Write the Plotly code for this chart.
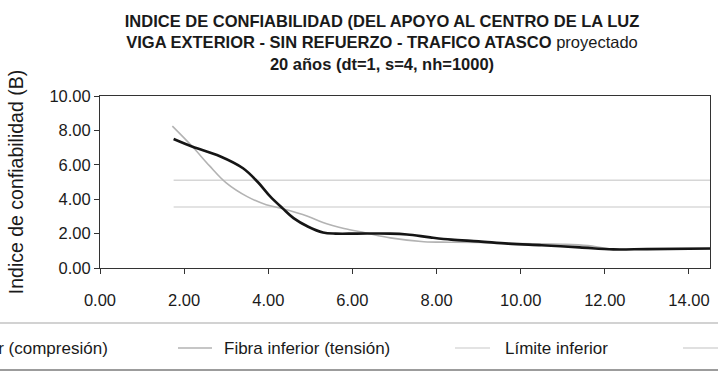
import plotly.graph_objects as go

# Reliability index vs. position along the span
x_sup = [1.75, 2.2, 2.85, 3.4, 3.75, 4.05, 4.35, 4.6, 4.95, 5.3, 5.6, 6.1, 6.9, 7.3,
         7.85, 8.35, 9.0, 9.7, 10.5, 11.4, 12.2, 13.0, 14.5]
y_sup = [7.5, 7.05, 6.5, 5.8, 5.0, 4.15, 3.45, 2.9, 2.4, 2.07, 2.0, 2.0, 2.0, 1.95,
         1.78, 1.65, 1.55, 1.42, 1.32, 1.2, 1.08, 1.1, 1.13]

x_inf = [1.72, 2.2, 2.6, 3.0, 3.5, 3.95, 4.35, 4.95, 5.3, 5.8, 6.3, 6.9, 7.7, 8.3,
         9.0, 10.0, 11.0, 11.6, 12.1, 13.0, 14.5]
y_inf = [8.25, 7.05, 5.95, 4.95, 4.15, 3.68, 3.45, 3.0, 2.65, 2.3, 2.05, 1.75, 1.53, 1.5,
         1.48, 1.42, 1.38, 1.3, 1.12, 1.1, 1.12]

x_lim = [1.75, 14.5]
lim_inf = 3.55
lim_sup = 5.1

series_names = ["Fibra superior (compresión)", "Fibra inferior (tensión)",
                "Límite inferior", "Límite superior"]
series_colors = ["#151515", "#b3b3b3", "#dadada", "#d6d6d6"]
series_widths = [2.6, 1.6, 1.6, 1.6]

x_ticks = [0, 2, 4, 6, 8, 10, 12, 14]
y_ticks = [0, 2, 4, 6, 8, 10]

title_lines = ["INDICE DE CONFIABILIDAD (DEL APOYO AL CENTRO DE LA LUZ",
               "VIGA EXTERIOR - SIN REFUERZO - TRAFICO ATASCO <span style='font-weight:normal'>proyectado</span>",
               "20 años (dt=1, s=4, nh=1000)"]
y_title = "Indice de confiabilidad (B)"

FONT = "Liberation Sans, Arial, sans-serif"
W, H = 718, 376
L, R, T, B = 100, 710, 96, 268


def px_x(px):
    return (px - L) / (R - L)


def px_y(py):
    return (B - py) / (B - T)


fig = go.Figure()
fig.add_trace(go.Scatter(x=x_lim, y=[lim_sup, lim_sup], mode="lines", name=series_names[3],
                         line=dict(color=series_colors[3], width=series_widths[3])))
fig.add_trace(go.Scatter(x=x_lim, y=[lim_inf, lim_inf], mode="lines", name=series_names[2],
                         line=dict(color=series_colors[2], width=series_widths[2])))
fig.add_trace(go.Scatter(x=x_inf, y=y_inf, mode="lines", name=series_names[1],
                         line=dict(color=series_colors[1], width=series_widths[1],
                                   shape="spline", smoothing=1.0)))
fig.add_trace(go.Scatter(x=x_sup, y=y_sup, mode="lines", name=series_names[0],
                         line=dict(color=series_colors[0], width=series_widths[0],
                                   shape="spline", smoothing=1.0)))

# legend strip below the chart (wider than the page, so its ends run off both sides)
shapes = [
    dict(type="rect", xref="paper", yref="paper", x0=px_x(-200), x1=px_x(900),
         y0=px_y(370), y1=px_y(323), line=dict(color="#c4c4c4", width=1.5),
         fillcolor="white", layer="below"),
    dict(type="line", xref="paper", yref="paper", x0=px_x(-200), x1=px_x(900),
         y0=px_y(370), y1=px_y(370), line=dict(color="#8a8a8a", width=1.5)),
]
annotations = []
legend_line_x = [(-150, -112), (178, 212), (455, 490), (683, 720)]
legend_text_x = [110, 222, 503, None]
legend_anchor = ["right", "left", "left", "left"]
leg_y = 348
for i in range(4):
    x0, x1 = legend_line_x[i]
    shapes.append(dict(type="line", xref="paper", yref="paper", x0=px_x(x0), x1=px_x(x1),
                       y0=px_y(leg_y), y1=px_y(leg_y),
                       line=dict(color=series_colors[i], width=series_widths[i])))
    if legend_text_x[i] is not None:
        annotations.append(dict(xref="paper", yref="paper", x=px_x(legend_text_x[i]),
                                y=px_y(leg_y), text=series_names[i], showarrow=False,
                                xanchor=legend_anchor[i], yanchor="middle",
                                font=dict(family=FONT, size=17, color="#1a1a1a")))

axis_common = dict(showgrid=False, zeroline=False, showline=True, linecolor="#333333",
                   linewidth=1, mirror=True, ticks="outside", ticklen=5, tickcolor="#333333",
                   tickformat=".2f", tickfont=dict(family=FONT, size=16.5, color="#1a1a1a"))

fig.update_layout(
    width=W, height=H,
    margin=dict(l=L, r=W - R, t=T, b=H - B, autoexpand=False),
    paper_bgcolor="white", plot_bgcolor="white",
    showlegend=False,
    title=dict(text="<br>".join(title_lines), x=382 / W, xanchor="center", xref="container",
               y=1 - 27 / H, yanchor="top", yref="container",
               font=dict(family=FONT, size=16.5, color="#1a1a1a", weight="bold")),
    xaxis=dict(range=[0, 14.5], tickvals=x_ticks, ticklabelstandoff=12, **axis_common),
    yaxis=dict(range=[0, 10], tickvals=y_ticks,
               title=dict(text=y_title, standoff=20,
                          font=dict(family=FONT, size=19.5, color="#1a1a1a")),
               **axis_common),
    shapes=shapes,
    annotations=annotations,
)

fig.write_html("out.html")
